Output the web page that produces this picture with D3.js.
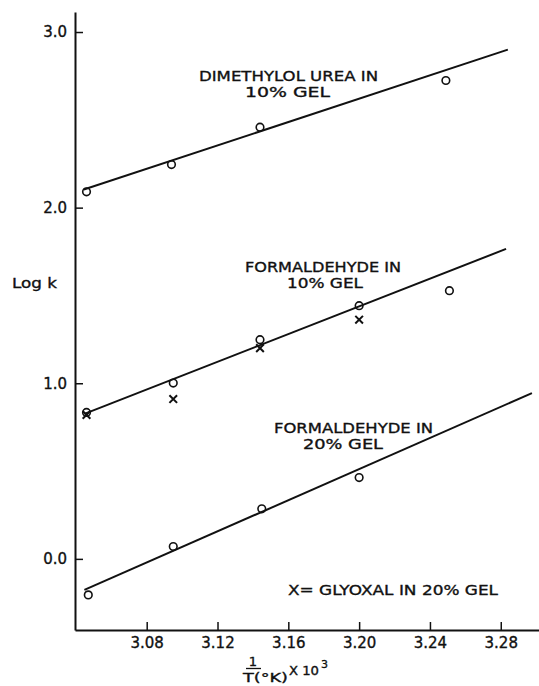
<!DOCTYPE html>
<html>
<head>
<meta charset="utf-8">
<script src="https://cdn.jsdelivr.net/npm/d3@7"></script>
<style>
body { margin: 0; background: #fff; }
text { font-family: "DejaVu Sans", sans-serif; fill: #111; stroke: #111; stroke-width: 0.35px; }
</style>
</head>
<body>
<div id="chart"></div>
<script>
// values, x = 1/T * 10^3, y = log k
var xTicks = [3.08, 3.12, 3.16, 3.20, 3.24, 3.28]
var yTicks = [0.0, 1.0, 2.0, 3.0]

var dmuX = [3.046, 3.094, 3.144, 3.249]
var dmuY = [2.09, 2.245, 2.458, 2.724]
var dmuFit = [[3.0445, 2.103], [3.284, 2.90]]

var form10X = [3.046, 3.095, 3.144, 3.200, 3.251]
var form10Y = [0.834, 1.001, 1.248, 1.442, 1.527]
var form10Fit = [[3.0448, 0.826], [3.283, 1.765]]

var glyoxalX = [3.046, 3.095, 3.144, 3.200]
var glyoxalY = [0.82, 0.91, 1.20, 1.362]

var form20X = [3.047, 3.095, 3.145, 3.200]
var form20Y = [-0.205, 0.07, 0.285, 0.463]
var form20Fit = [[3.0448, -0.177], [3.2976, 0.944]]

var width = 539, height = 686

var svg = d3.select("#chart").append("svg")
    .attr("width", width)
    .attr("height", height)

var x = d3.scaleLinear().domain([3.0395, 3.3016]).range([75, 539])
var y = d3.scaleLinear().domain([-0.405, 3.114]).range([630, 12])

//axes, ticks pointing inward
var yAxis = d3.axisLeft(y)
    .tickValues(yTicks)
    .tickFormat(d3.format(".1f"))
    .tickSizeInner(-8)
    .tickSizeOuter(0)
    .tickPadding(8)

var xAxis = d3.axisBottom(x)
    .tickValues(xTicks)
    .tickFormat(d3.format(".2f"))
    .tickSizeInner(-8)
    .tickSizeOuter(0)
    .tickPadding(7)

var gy = svg.append("g").attr("transform", "translate(75,0)").call(yAxis)
var gx = svg.append("g").attr("transform", "translate(0,630)").call(xAxis)

svg.selectAll(".domain").attr("stroke", "#111").attr("stroke-width", 2)
svg.selectAll(".tick line").attr("stroke", "#111").attr("stroke-width", 1.5)
svg.selectAll(".tick text")
    .attr("font-family", null)
    .attr("font-size", 15)
    .attr("fill", "#111")
gx.attr("font-size", null)
gy.attr("font-size", null)

// fitted lines
var line = d3.line()
    .x(function(d) { return x(d[0]) })
    .y(function(d) { return y(d[1]) })

;[dmuFit, form10Fit, form20Fit].forEach(function(f) {
    svg.append("path")
        .attr("d", line(f))
        .attr("fill", "none")
        .attr("stroke", "#111")
        .attr("stroke-width", 2)
})

// open circles
function drawCircles(xs, ys) {
    svg.append("g").selectAll("circle")
        .data(xs)
        .enter()
        .append("circle")
        .attr("cx", function(d) { return x(d) })
        .attr("cy", function(d, i) { return y(ys[i]) })
        .attr("r", 3.8)
        .attr("fill", "none")
        .attr("stroke", "#111")
        .attr("stroke-width", 1.6)
}
drawCircles(dmuX, dmuY)
drawCircles(form10X, form10Y)
drawCircles(form20X, form20Y)

// glyoxal crosses
svg.append("g").selectAll("path")
    .data(glyoxalX)
    .enter()
    .append("path")
    .attr("d", d3.symbol(d3.symbolX, 40))
    .attr("transform", function(d, i) { return "translate(" + x(d) + "," + y(glyoxalY[i]) + ")" })
    .attr("fill", "none")
    .attr("stroke", "#111")
    .attr("stroke-width", 2)

// labels
function label(txt, px, py, len) {
    svg.append("text")
        .attr("x", px)
        .attr("y", py)
        .attr("font-size", 14)
        .attr("textLength", len)
        .attr("lengthAdjust", "spacingAndGlyphs")
        .text(txt)
}
label("DIMETHYLOL UREA IN", 199, 81, 179)
label("10% GEL", 245, 97, 85)
label("FORMALDEHYDE IN", 245, 272, 156)
label("10% GEL", 287, 288, 76)
label("FORMALDEHYDE IN", 274, 433, 159)
label("20% GEL", 303, 449, 80)
label("X= GLYOXAL IN 20% GEL", 288, 595, 210)
label("Log k", 12, 288, 45)

// x axis title as a fraction
svg.append("text").attr("x", 253).attr("y", 666).attr("font-size", 13)
    .attr("text-anchor", "middle").text("1")
svg.append("line").attr("x1", 246).attr("x2", 261).attr("y1", 668.5).attr("y2", 668.5)
    .attr("stroke", "#111").attr("stroke-width", 1.3)
svg.append("text").attr("x", 243).attr("y", 682).attr("font-size", 13)
    .attr("textLength", 45).attr("lengthAdjust", "spacingAndGlyphs").text("T(°K)")
svg.append("text").attr("x", 289).attr("y", 675).attr("font-size", 12)
    .attr("textLength", 30).attr("lengthAdjust", "spacingAndGlyphs").text("X 10")
svg.append("text").attr("x", 321).attr("y", 668).attr("font-size", 11).text("3")
</script>
</body>
</html>
